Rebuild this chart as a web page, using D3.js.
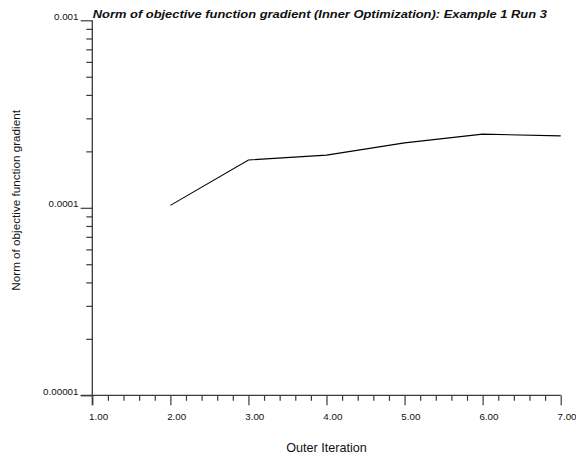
<!DOCTYPE html>
<html>
<head>
<meta charset="utf-8">
<script src="https://cdn.jsdelivr.net/npm/d3@7"></script>
<style>
  html, body { margin: 0; padding: 0; background: #fff; }
  svg { display: block; font-family: "Liberation Sans", Arial, sans-serif; }
</style>
</head>
<body>
<svg id="chart" width="576" height="462"></svg>
<script>
// Gradient norm per outer iteration
const iterations = [2, 3, 4, 5, 6, 7];
const gradNorm = [1.03e-4, 1.80e-4, 1.91e-4, 2.22e-4, 2.47e-4, 2.42e-4];

// Axis ticks
const xMajorTicks = [1, 2, 3, 4, 5, 6, 7];
const xTickLabels = ["1.00", "2.00", "3.00", "4.00", "5.00", "6.00", "7.00"];
const yMajorTicks = [1e-3, 1e-4, 1e-5];
const yTickLabels = ["0.001", "0.0001", "0.00001"];

const titleText = "Norm of objective function gradient (Inner Optimization): Example 1 Run 3";
const xTitle = "Outer Iteration";
const yTitle = "Norm of objective function gradient";

const svg = d3.select("#chart");
const plotLeft = 92.3, plotRight = 560.7, plotTop = 20.3, plotBottom = 395.3;

const x = d3.scaleLinear().domain([1, 7]).range([plotLeft, plotRight]);
const y = d3.scaleLog().domain([1e-5, 1e-3]).range([plotBottom, plotTop]);

const axisColor = "#3a3a3a";

// minor ticks
const xMinor = d3.range(1, 7.0001, 0.2).filter(v => Math.abs(v - Math.round(v)) > 1e-6);
const yMinor = [];
[1e-5, 1e-4].forEach(d => { for (let k = 2; k <= 9; k++) yMinor.push(d * k); });

// X axis: ticks point downward
const gx = svg.append("g").attr("transform", `translate(0,${plotBottom})`);
gx.call(d3.axisBottom(x).tickValues(xMinor).tickSize(5.5).tickFormat(""));
gx.select(".domain").remove();
const gxMaj = svg.append("g").attr("transform", `translate(0,${plotBottom})`);
gxMaj.call(d3.axisBottom(x).tickValues(xMajorTicks).tickSize(10).tickFormat(""));
gxMaj.select(".domain").remove();

svg.append("line")
  .attr("x1", plotLeft - 11.6).attr("x2", plotRight)
  .attr("y1", plotBottom).attr("y2", plotBottom)
  .attr("stroke", axisColor).attr("stroke-width", 1.3);

svg.append("g").selectAll("text").data(xMajorTicks).join("text")
  .attr("x", d => x(d) - 3.2)
  .attr("y", plotBottom + 24.2)
  .attr("font-size", 9.8)
  .attr("fill", "#111")
  .text((d, i) => xTickLabels[i]);

// Y axis: ticks point left
const gy = svg.append("g").attr("transform", `translate(${plotLeft},0)`);
gy.call(d3.axisLeft(y).tickValues(yMinor).tickSize(6).tickFormat(""));
gy.select(".domain").remove();
const gyMaj = svg.append("g").attr("transform", `translate(${plotLeft},0)`);
gyMaj.call(d3.axisLeft(y).tickValues(yMajorTicks).tickSize(11.6).tickFormat(""));
gyMaj.select(".domain").remove();
svg.selectAll("g .tick line").attr("stroke", axisColor).attr("stroke-width", 1.2);

svg.append("line")
  .attr("x1", plotLeft).attr("x2", plotLeft)
  .attr("y1", plotTop).attr("y2", plotBottom + 10)
  .attr("stroke", axisColor).attr("stroke-width", 1.3);

svg.append("g").selectAll("text").data(yMajorTicks).join("text")
  .attr("x", 78.5)
  .attr("y", d => y(d) - 0.8)
  .attr("text-anchor", "end")
  .attr("font-size", 9.8)
  .attr("fill", "#111")
  .text((d, i) => yTickLabels[i]);

// Data line
const line = d3.line().x((d, i) => x(iterations[i])).y(d => y(d));
svg.append("path")
  .datum(gradNorm)
  .attr("d", line)
  .attr("fill", "none")
  .attr("stroke", "#000")
  .attr("stroke-width", 1.1);

// Titles
svg.append("text")
  .attr("x", plotLeft + 0.5).attr("y", 17.8)
  .attr("font-size", 11.8)
  .attr("font-weight", "bold")
  .attr("font-style", "italic")
  .attr("fill", "#111")
  .attr("textLength", 454)
  .attr("lengthAdjust", "spacingAndGlyphs")
  .text(titleText);

svg.append("text")
  .attr("x", (plotLeft + plotRight) / 2).attr("y", 452)
  .attr("text-anchor", "middle")
  .attr("font-size", 12.6)
  .attr("fill", "#111")
  .text(xTitle);

svg.append("text")
  .attr("transform", `translate(20.3,200.4) rotate(-90)`)
  .attr("text-anchor", "middle")
  .attr("font-size", 11.7)
  .attr("fill", "#111")
  .text(yTitle);
</script>
</body>
</html>
